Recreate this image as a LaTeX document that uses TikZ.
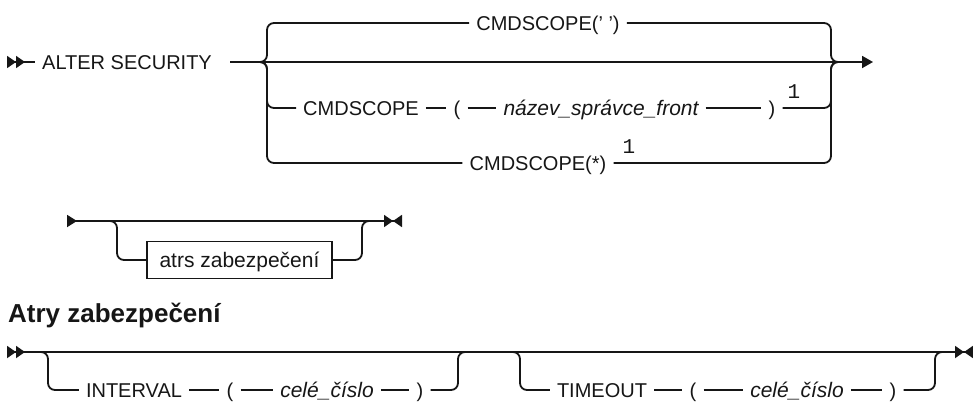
\documentclass[tikz,border=0pt]{standalone}
\usepackage{fontspec}
\setmainfont{Liberation Sans}
\newfontfamily\notefont{Liberation Mono}
\usetikzlibrary{arrows.meta}
\definecolor{railink}{HTML}{161616}
\tikzset{
  rail/.style={line width=1.8pt, draw=railink, rounded corners=7pt},
  kw/.style={inner xsep=7pt, inner ysep=0pt, text height=15pt, text depth=1pt, font=\fontsize{20}{24}\selectfont, text=railink},
  var/.style={kw, font=\fontsize{21}{25}\selectfont\itshape},
  note/.style={inner sep=0pt, font=\notefont\fontsize{21}{24}\selectfont, text=railink},
  heading/.style={inner sep=0pt, anchor=west, font=\fontsize{26}{31}\selectfont\bfseries, text=railink},
  refbox/.style={kw, font=\fontsize{21}{25}\selectfont, draw=railink, line width=1.8pt, minimum width=185pt, minimum height=37pt},
  railstart/.style={{Triangle[reversed,length=9pt,width=12pt]Triangle[reversed,length=9pt,width=12pt]}-},
  railnext/.style={-{Triangle[length=11pt,width=12pt]}},
  railcontstop/.style={{Triangle[reversed,length=10pt,width=12pt]}-{Triangle[length=9pt,width=12pt]Triangle[reversed,length=9pt,width=12pt]}},
  railstartstop/.style={{Triangle[reversed,length=9pt,width=12pt]Triangle[reversed,length=9pt,width=12pt]}-{Triangle[length=9pt,width=12pt]Triangle[reversed,length=9pt,width=12pt]}}
}

\begin{document}
\begin{tikzpicture}[x=1pt, y=-1pt]
\useasboundingbox (0,0) rectangle (973,402);

% ALTER SECURITY
\coordinate (startA) at (7,62);
\coordinate (endA) at (873,62);
\coordinate (forkA) at (259,62);
\coordinate (joinA) at (839,62);

\node[kw] (alter) at (127,62) {ALTER SECURITY};
\node[kw] (cmdq) at (548,23) {CMDSCOPE(' ')};
\node[kw] (cmd) at (361,108) {CMDSCOPE};
\node[kw] (lpA) at (457,108) {(};
\node[var] (admin) at (601,108) {název\_správce\_front};
\node[kw] (rpA) at (772,108) {)};
\node[kw] (cmdstar) at (538,163) {CMDSCOPE(*)};
\node[note] (noteA1) at (794,92) {1};
\node[note] (noteA2) at (629,147) {1};

\draw[rail, railstart] (startA) -- (alter.west);
\draw[rail, railnext] ([xshift=11pt]alter.east) -- (endA);

\draw[rail] (forkA) -- ++(8,0) |- (cmdq.west);
\draw[rail] (cmdq.east) -| ([xshift=-8pt]joinA) -- (joinA);

\draw[rail] (forkA) -- ++(8,0) |- (cmd.west);
\draw[rail] (cmd) -- (lpA);
\draw[rail] (lpA) -- (admin);
\draw[rail] (admin) -- (rpA);
\draw[rail] (rpA.east) -| ([xshift=-8pt]joinA) -- (joinA);

\draw[rail] (forkA) -- ++(8,0) |- (cmdstar.west);
\draw[rail] (cmdstar.east) -| ([xshift=-8pt]joinA) -- (joinA);

% continuation line
\coordinate (startB) at (67,221);
\coordinate (endB) at (402,221);
\coordinate (forkB) at (109,221);
\coordinate (joinB) at (370,221);

\node[refbox] (atrs) at (239.5,260) {atrs zabezpečení};

\draw[rail, railcontstop] (startB) -- (endB);
\draw[rail] (forkB) -- ++(8,0) |- (atrs.west);
\draw[rail] (atrs.east) -| ([xshift=-8pt]joinB) -- (joinB);

% Atry zabezpeceni
\node[heading] (title) at (8,315) {Atry zabezpečení};

\coordinate (startC) at (7,352);
\coordinate (endC) at (973,352);
\coordinate (forkC1) at (40,352);
\coordinate (joinC1) at (466,352);
\coordinate (forkC2) at (512,352);
\coordinate (joinC2) at (943,352);

\node[kw] (interval) at (134,390) {INTERVAL};
\node[kw] (lpC1) at (230,390) {(};
\node[var] (numC1) at (327,390) {celé\_číslo};
\node[kw] (rpC1) at (420,390) {)};

\node[kw] (timeout) at (602,390) {TIMEOUT};
\node[kw] (lpC2) at (693,390) {(};
\node[var] (numC2) at (797,390) {celé\_číslo};
\node[kw] (rpC2) at (893,390) {)};

\draw[rail, railstartstop] (startC) -- (endC);

\draw[rail] (forkC1) -- ++(8,0) |- (interval.west);
\draw[rail] (interval) -- (lpC1);
\draw[rail] (lpC1) -- (numC1);
\draw[rail] (numC1) -- (rpC1);
\draw[rail] (rpC1.east) -| ([xshift=-8pt]joinC1) -- (joinC1);

\draw[rail] (forkC2) -- ++(8,0) |- (timeout.west);
\draw[rail] (timeout) -- (lpC2);
\draw[rail] (lpC2) -- (numC2);
\draw[rail] (numC2) -- (rpC2);
\draw[rail] (rpC2.east) -| ([xshift=-8pt]joinC2) -- (joinC2);

\end{tikzpicture}
\end{document}
